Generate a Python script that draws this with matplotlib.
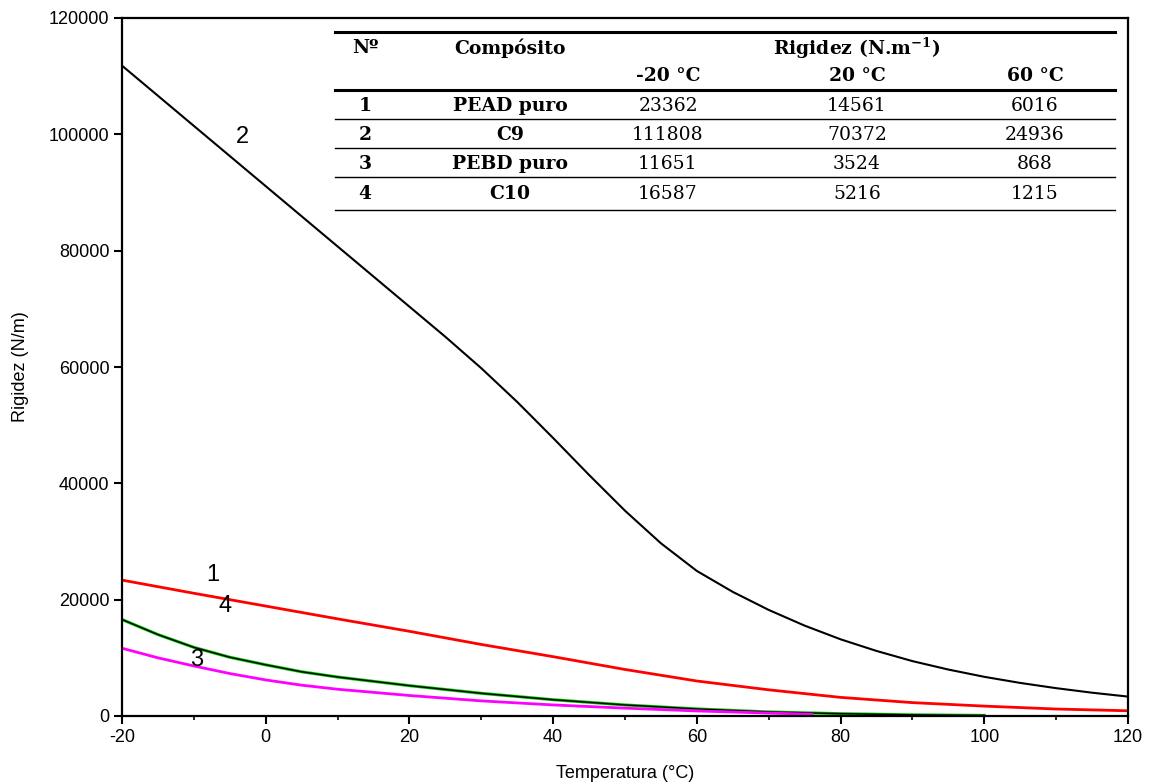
import matplotlib
matplotlib.use("Agg")
import matplotlib.pyplot as plt
from matplotlib.lines import Line2D
import numpy as np

plt.rcParams["axes.unicode_minus"] = False
plt.rcParams["mathtext.fontset"] = "dejavuserif"

# ---- data ----
temp_c9 = [-20, -15, -10, -5, 0, 5, 10, 15, 20, 25, 30, 35, 40, 45, 50, 55, 60, 65, 70, 75,
           80, 85, 90, 95, 100, 105, 110, 115, 120]
rig_c9 = [111808, 106630, 101450, 96270, 91090, 85910, 80730, 75550, 70372, 65192, 59792,
          53992, 47792, 41442, 35292, 29692, 24936, 21336, 18236, 15536, 13186, 11186, 9436,
          7986, 6736, 5686, 4786, 4006, 3336]

temp_pead = [-20, -10, 0, 10, 20, 30, 40, 50, 60, 70, 80, 90, 100, 110, 120]
rig_pead = [23362, 21100, 18900, 16700, 14561, 12300, 10200, 8000, 6016, 4500, 3200, 2300,
            1700, 1200, 900]

temp_c10 = [-20, -15, -10, -5, 0, 5, 10, 20, 30, 40, 50, 60, 70, 80, 90, 100]
rig_c10 = [16587, 14000, 11800, 10100, 8800, 7600, 6700, 5216, 3900, 2800, 1900, 1215, 700,
           400, 200, 100]

temp_pebd = [-20, -15, -10, -5, 0, 5, 10, 20, 30, 40, 50, 60, 70, 76]
rig_pebd = [11651, 10000, 8600, 7300, 6200, 5300, 4600, 3524, 2600, 1900, 1350, 868, 500, 300]

curve_labels = ["1", "2", "3", "4"]

table_header = ["N\u00ba", "Comp\u00f3sito", r"Rigidez (N.m$^{\mathbf{-1}}$)"]
table_temps = ["-20 \u00b0C", "20 \u00b0C", "60 \u00b0C"]
table_num = ["1", "2", "3", "4"]
table_comp = ["PEAD puro", "C9", "PEBD puro", "C10"]
table_m20 = ["23362", "111808", "11651", "16587"]
table_p20 = ["14561", "70372", "3524", "5216"]
table_p60 = ["6016", "24936", "868", "1215"]

xticks = [-20, 0, 20, 40, 60, 80, 100, 120]
yticks = [0, 20000, 40000, 60000, 80000, 100000, 120000]

# ---- figure ----
W, H = 1151, 782
fig = plt.figure(figsize=(W / 100, H / 100), dpi=100)
ax = fig.add_axes([122 / W, 1 - 716 / H, (1128 - 122) / W, (716 - 18) / H])

ax.plot(temp_c9, rig_c9, color="black", lw=1.5)
ax.plot(temp_pead, rig_pead, color="#ff0000", lw=2.0)
ax.plot(temp_c10, rig_c10, color="#00c000", lw=2.2)
ax.plot(temp_c10, rig_c10, color="black", lw=1.0)
ax.plot(temp_pebd, rig_pebd, color="#ff00ff", lw=2.0)

ax.set_xlim(-20, 120)
ax.set_ylim(0, 120000)
ax.set_xticks(xticks)
ax.set_xticks(np.arange(-10, 120, 20), minor=True)
ax.set_yticks(yticks)
ax.tick_params(axis="both", which="major", direction="out", length=6, width=1.5,
               labelsize=13, pad=3)
ax.tick_params(axis="x", which="minor", direction="out", length=3, width=1.2)
for s in ax.spines.values():
    s.set_linewidth(1.6)

lab_font = dict(family="Liberation Sans")
for t in ax.get_xticklabels() + ax.get_yticklabels():
    t.set_fontfamily("Liberation Sans")
ax.set_xlabel("Temperatura (\u00b0C)", fontsize=13, labelpad=14, **lab_font)
ax.set_ylabel("Rigidez (N/m)", fontsize=13, labelpad=14, **lab_font)

# curve number labels
ax.text(-3.2, 99500, curve_labels[1], fontsize=17, **lab_font, ha="center", va="center")
ax.text(-7.3, 24200, curve_labels[0], fontsize=17, **lab_font, ha="center", va="center")
ax.text(-5.7, 18900, curve_labels[3], fontsize=17, **lab_font, ha="center", va="center")
ax.text(-9.6, 9600, curve_labels[2], fontsize=17, **lab_font, ha="center", va="center")

# ---- inset table (figure pixel coordinates) ----
def fx(px):
    return px / W

def fy(py):
    return 1 - py / H

x0, x1 = 335, 1115
for py, lw in [(32, 2.2), (90, 2.2), (119, 1.0), (148, 1.0), (177, 1.0), (210, 1.0)]:
    fig.add_artist(Line2D([fx(x0), fx(x1)], [fy(py), fy(py)], color="black", lw=lw,
                          transform=fig.transFigure))

tfont = dict(family="DejaVu Serif", fontsize=13.5)
col_x = [365, 510, 668, 857, 1035]
fig.text(fx(col_x[0]), fy(48), table_header[0], ha="center", va="center", fontweight="bold", **tfont)
fig.text(fx(col_x[1]), fy(48), table_header[1], ha="center", va="center", fontweight="bold", **tfont)
fig.text(fx(col_x[3]), fy(48), table_header[2], ha="center", va="center", fontweight="bold", **tfont)
for cx, lbl in zip(col_x[2:], table_temps):
    fig.text(fx(cx), fy(76), lbl, ha="center", va="center", fontweight="bold", **tfont)

row_y = [106, 135, 164, 194]
for i, ry in enumerate(row_y):
    fig.text(fx(col_x[0]), fy(ry), table_num[i], ha="center", va="center", fontweight="bold", **tfont)
    fig.text(fx(col_x[1]), fy(ry), table_comp[i], ha="center", va="center", fontweight="bold", **tfont)
    fig.text(fx(col_x[2]), fy(ry), table_m20[i], ha="center", va="center", **tfont)
    fig.text(fx(col_x[3]), fy(ry), table_p20[i], ha="center", va="center", **tfont)
    fig.text(fx(col_x[4]), fy(ry), table_p60[i], ha="center", va="center", **tfont)

fig.savefig("out.png", dpi=100)
